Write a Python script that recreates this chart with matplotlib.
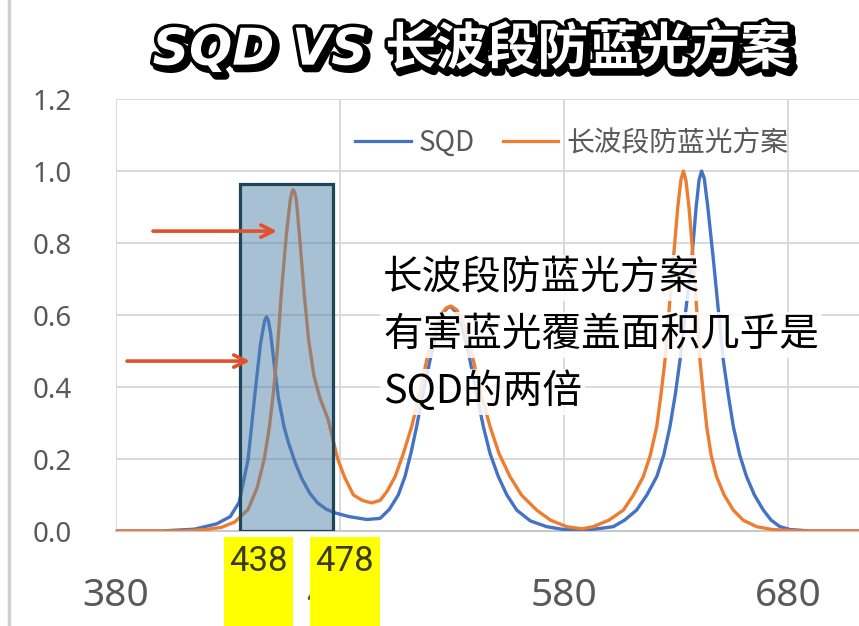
import matplotlib
matplotlib.use("Agg")
import matplotlib.pyplot as plt
import matplotlib.patheffects as pe
from matplotlib.patches import Rectangle
from matplotlib.lines import Line2D
import matplotlib.transforms as mtransforms

plt.rcParams['font.family'] = ['Noto Sans CJK SC', 'DejaVu Sans']

BLUE = "#4472c4"
ORANGE = "#ed7d31"
GRID = "#d9d9d9"
TICK = "#595959"

# SQD spectrum
sqd_x = [380, 400, 415, 425, 431, 435, 439, 442, 444.5, 445.5, 446.4, 447.2, 448, 449,
         450.5, 452.5, 455, 457, 460, 463, 466.5, 470, 474, 478, 484, 492, 497.9, 502,
         506, 509, 511.8, 514.2, 517, 520.2, 523.5, 526, 528, 529.5, 531.5, 534, 536, 538,
         541, 544, 547, 550.7, 554.5, 558.9, 565, 572.3, 580, 590, 596, 602, 607, 612.4,
         617, 621.4, 624.5, 627.3, 629.7, 631.8, 634.5, 637, 639, 640.3, 641.4, 642.6,
         644.2, 646.7, 648.8, 651.1, 653.3, 655.6, 658.5, 661.5, 665, 669, 672.5, 676.4,
         681, 690, 780]
sqd_y = [0.0, 0.0, 0.005, 0.02, 0.04, 0.08, 0.2, 0.38, 0.52, 0.555, 0.585, 0.595, 0.585,
         0.55, 0.47, 0.37, 0.29, 0.245, 0.19, 0.145, 0.105, 0.078, 0.06, 0.05, 0.04, 0.032,
         0.035, 0.06, 0.1, 0.151, 0.22, 0.29, 0.38, 0.475, 0.56, 0.605, 0.62, 0.623, 0.61,
         0.575, 0.53, 0.475, 0.38, 0.29, 0.215, 0.151, 0.1, 0.058, 0.028, 0.012, 0.004,
         0.003, 0.007, 0.012, 0.03, 0.058, 0.1, 0.151, 0.21, 0.29, 0.38, 0.475, 0.62, 0.753,
         0.9, 0.975, 1.0, 0.98, 0.9, 0.753, 0.62, 0.475, 0.38, 0.29, 0.21, 0.151, 0.1,
         0.058, 0.03, 0.012, 0.004, 0.0, 0.0]

# long-wave anti blue light scheme
lw_x = [380, 410, 420, 427, 433, 439, 443, 446.2, 448.5, 450.2, 452, 453.8, 456, 457.8,
        458.5, 459.1, 459.8, 460.5, 462.2, 464, 466, 468.4, 471, 474.7, 477, 479, 482,
        486, 490, 494, 497.9, 501, 504.6, 508, 512, 515.5, 518.7, 522, 525, 527.5, 529.5,
        532, 535, 537.5, 539.5, 543, 547, 551, 555.9, 561, 567.8, 574, 581.2, 588, 593,
        600, 606.5, 611, 615.4, 618.5, 621.4, 623.3, 625.1, 627, 628.8, 630.8, 632.2,
        633.3, 634.4, 635.8, 637.7, 639.2, 640.7, 642.2, 643.7, 645.7, 648.1, 651.5,
        655.6, 660, 666, 673, 685, 780]
lw_y = [0.0, 0.0, 0.004, 0.01, 0.025, 0.06, 0.12, 0.2, 0.29, 0.38, 0.5, 0.66, 0.82, 0.92,
        0.94, 0.948, 0.94, 0.92, 0.8, 0.66, 0.53, 0.43, 0.37, 0.31, 0.25, 0.2, 0.15, 0.1,
        0.085, 0.078, 0.085, 0.11, 0.151, 0.21, 0.29, 0.38, 0.475, 0.55, 0.6, 0.62, 0.625,
        0.615, 0.58, 0.53, 0.475, 0.38, 0.29, 0.215, 0.151, 0.1, 0.058, 0.03, 0.012, 0.006,
        0.012, 0.03, 0.058, 0.1, 0.151, 0.21, 0.29, 0.38, 0.475, 0.62, 0.753, 0.9, 0.975,
        1.0, 0.975, 0.9, 0.753, 0.62, 0.475, 0.38, 0.29, 0.21, 0.151, 0.1, 0.058, 0.03,
        0.012, 0.004, 0.0, 0.0]

x_ticks = [380, 480, 580, 680, 780]
x_labels = ["380", "480", "580", "680", ""]
y_ticks = [0.0, 0.2, 0.4, 0.6, 0.8, 1.0, 1.2]
band = [438, 478]
box_x = [435.4, 476.9]   # hand-drawn box edges as they sit in the picture
band_top = 0.965
arrow_y = [0.833, 0.472]
arrow_x0 = [396.5, 384.9]
arrow_x1 = [451.9, 439.8]

names = ["SQD", "长波段防蓝光方案"]
title = "SQD VS 长波段防蓝光方案"
note = ["长波段防蓝光方案", "有害蓝光覆盖面积几乎是", "SQD的两倍"]

fig = plt.figure(figsize=(8.59, 6.26), dpi=100)
ax = fig.add_axes([116/859, 95/626, 896/859, 432/626])

ax.plot(sqd_x, sqd_y, color=BLUE, lw=2.4, solid_joinstyle="round", zorder=3)
ax.plot(lw_x, lw_y, color=ORANGE, lw=2.4, solid_joinstyle="round", zorder=3)

ax.set_xlim(380, 780)
ax.set_ylim(0, 1.2)
ax.set_xticks(x_ticks)
ax.set_xticklabels(x_labels)
ax.set_yticks(y_ticks)
ax.set_yticklabels(["%.1f" % v for v in y_ticks])
ax.grid(color=GRID, lw=1.4, zorder=0)
ax.set_axisbelow(True)
for s in ["top", "right", "left"]:
    ax.spines[s].set_visible(False)
ax.spines["bottom"].set_color("#c8c8c8")
ax.spines["bottom"].set_linewidth(1.5)
ax.tick_params(length=0, colors=TICK)
ax.tick_params(axis="x", labelsize=28, pad=33)
ax.tick_params(axis="y", labelsize=20, pad=32)
for t in ax.get_xticklabels() + ax.get_yticklabels():
    t.set_family(["Noto Sans", "DejaVu Sans"])

# highlighted band
ax.add_patch(Rectangle((box_x[0], 0), box_x[1] - box_x[0], band_top,
                       facecolor="#5082aa", alpha=0.5, edgecolor="none", zorder=4))
ax.add_patch(Rectangle((box_x[0], 0), box_x[1] - box_x[0], band_top,
                       facecolor="none", edgecolor="#1d4759", lw=2.3, zorder=5))

# arrows
for y, x0, x1 in zip(arrow_y, arrow_x0, arrow_x1):
    ax.annotate("", xy=(x1, y), xytext=(x0, y),
                arrowprops=dict(arrowstyle="->", color="#e0522c", lw=2.6,
                                mutation_scale=22, shrinkA=0, shrinkB=0),
                zorder=6)

# yellow labels for the band edges
trans = mtransforms.blended_transform_factory(ax.transData, ax.transAxes)
shift = [5.5, 4.2]
for v, d in zip(band, shift):
    ax.add_patch(Rectangle((v + d - 15.5, -0.3), 31, 0.3 - 0.014, transform=trans,
                           facecolor="#ffff00", edgecolor="none", clip_on=False, zorder=7))
    ax.text(v + d, -0.07, str(v), transform=trans, ha="center", va="center",
            fontsize=25, color="#3a3a20", family=["Roboto", "DejaVu Sans"],
            zorder=8, clip_on=False)

# legend
handles = [Line2D([], [], color=BLUE, lw=2.3), Line2D([], [], color=ORANGE, lw=2.3)]
fig.legend(handles, names, loc="center left", bbox_to_anchor=(355/859, 1 - 143/626),
           ncol=2, frameon=False, fontsize=20, labelcolor=TICK, handlelength=2.0,
           handletextpad=0.3, columnspacing=1.0, borderpad=0, borderaxespad=0)

# note text
for i, line in enumerate(note):
    fig.text(383/859, 1 - (278 + 57*i)/626, line, ha="left", va="center",
             fontsize=28.5, color="black", zorder=10,
             bbox=dict(facecolor="white", edgecolor="none", alpha=0.85, pad=2))

# title
fig.text(472/859, 1 - 50/626, title, ha="center", va="center", fontsize=36.5,
         color="white", weight="bold", style="italic",
         family=["DejaVu Sans", "Noto Sans CJK SC"],
         path_effects=[pe.Stroke(linewidth=6, foreground="black", offset=(2.5, -2.5)),
                       pe.Stroke(linewidth=5, foreground="black"),
                       pe.Normal()])

fig.add_artist(Line2D([9/859, 9/859], [0, 1], color="#d0d0d0", lw=2.5))

fig.savefig("out.png", dpi=100)
